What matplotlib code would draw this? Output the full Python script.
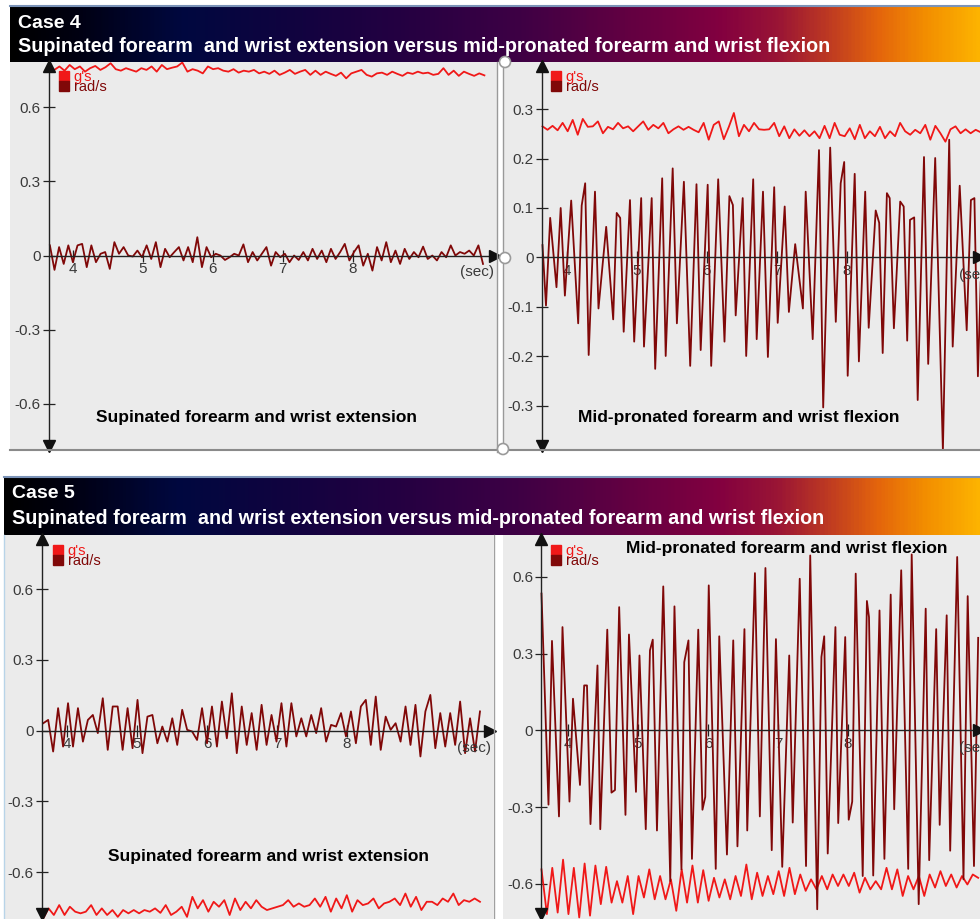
import numpy as np
import matplotlib.pyplot as plt
from matplotlib.colors import LinearSegmentedColormap
from matplotlib.lines import Line2D
from matplotlib.patches import Ellipse

plt.rcParams['font.family'] = ['Liberation Sans', 'DejaVu Sans']

W, H = 980, 919
RED = '#f01818'
DARK = '#800808'
PANEL = '#ebebeb'

# ---- data ----
# Case 4, supinated forearm / wrist extension
tl_rad = [0.041, -0.058, 0.034, -0.034, 0.041, -0.027, 0.041, 0.047, -0.047, 0.041,
          -0.027, 0.007, 0.014, -0.054, 0.054, 0.007, 0.034, 0.0, -0.004, 0.020,
          -0.007, 0.041, -0.014, 0.054, -0.047, 0.027, -0.007, 0.014, 0.034, -0.020,
          0.034, -0.027, 0.074, -0.047, 0.034, -0.007, 0.007, 0.0, -0.018, -0.007,
          0.007, 0.0, 0.045, -0.027, 0.014, -0.020, 0.007, 0.034, -0.041, 0.014,
          -0.007, 0.007, -0.027, 0.0, -0.018, 0.014, -0.020, 0.027, -0.014, 0.020,
          -0.027, 0.027, -0.014, 0.014, 0.047, -0.020, 0.014, 0.041, -0.041, 0.007,
          -0.061, 0.034, -0.020, 0.054, -0.027, 0.020, -0.034, 0.027, -0.014, 0.014,
          -0.007, 0.036, -0.014, 0.0, -0.020, 0.014, -0.007, 0.041, 0.0, 0.014,
          0.007, 0.020, 0.0, 0.041, -0.034]
tl_g = [0.757, 0.750, 0.764, 0.747, 0.770, 0.753, 0.764, 0.743, 0.757, 0.766,
        0.750, 0.761, 0.777, 0.753, 0.747, 0.757, 0.750, 0.743, 0.757, 0.750,
        0.764, 0.743, 0.770, 0.753, 0.759, 0.764, 0.780, 0.743, 0.753, 0.747,
        0.736, 0.764, 0.753, 0.757, 0.747, 0.743, 0.753, 0.739, 0.747, 0.743,
        0.750, 0.736, 0.743, 0.734, 0.747, 0.730, 0.739, 0.750, 0.734, 0.743,
        0.750, 0.730, 0.747, 0.730, 0.743, 0.734, 0.726, 0.739, 0.716, 0.736,
        0.743, 0.750, 0.730, 0.723, 0.736, 0.739, 0.730, 0.743, 0.734, 0.726,
        0.739, 0.734, 0.743, 0.736, 0.739, 0.730, 0.734, 0.757, 0.730, 0.747,
        0.726, 0.743, 0.734, 0.726, 0.736, 0.728]

# Case 4, mid-pronated forearm / wrist flexion
tr_rad_t = [3.65, 3.70, 3.76, 3.85, 3.91, 3.97, 4.06, 4.16, 4.21, 4.26,
            4.31, 4.40, 4.45, 4.56, 4.66, 4.71, 4.76, 4.81, 4.90, 4.96,
            5.06, 5.10, 5.21, 5.26, 5.36, 5.41, 5.51, 5.57, 5.67, 5.76,
            5.85, 5.91, 6.01, 6.06, 6.16, 6.25, 6.32, 6.37, 6.41, 6.51,
            6.56, 6.66, 6.71, 6.80, 6.87, 6.96, 7.01, 7.11, 7.17, 7.26,
            7.37, 7.41, 7.51, 7.60, 7.66, 7.76, 7.84, 7.91, 7.96, 8.01,
            8.11, 8.17, 8.26, 8.31, 8.41, 8.46, 8.51, 8.57, 8.61, 8.67,
            8.76, 8.81, 8.86, 8.90, 8.96, 9.01, 9.10, 9.16, 9.26, 9.37,
            9.46, 9.51, 9.61, 9.71, 9.77, 9.82, 9.87, 9.91]
tr_rad = [0.025, -0.097, 0.080, -0.060, 0.100, -0.077, 0.115, -0.133, 0.105, 0.150,
          -0.197, 0.133, -0.103, 0.062, -0.125, 0.090, 0.080, -0.150, 0.116, -0.170,
          0.120, -0.180, 0.120, -0.225, 0.160, -0.199, 0.180, -0.133, 0.153, -0.219,
          0.148, -0.187, 0.147, -0.219, 0.158, -0.170, 0.124, 0.106, -0.117, 0.120,
          -0.199, 0.158, -0.165, 0.133, -0.201, 0.142, -0.132, 0.103, -0.110, 0.027,
          -0.103, 0.133, -0.165, 0.217, -0.303, 0.222, -0.130, 0.150, 0.193, -0.239,
          0.169, -0.210, 0.133, -0.142, 0.095, 0.070, -0.193, 0.130, 0.120, -0.143,
          0.113, 0.103, -0.168, 0.076, 0.081, -0.288, 0.203, -0.215, 0.201, -0.390,
          0.238, -0.180, 0.145, -0.147, 0.116, 0.120, -0.240, -0.050]
tr_g = [0.265, 0.258, 0.266, 0.257, 0.272, 0.255, 0.278, 0.248, 0.280, 0.264,
        0.265, 0.275, 0.251, 0.264, 0.259, 0.272, 0.261, 0.265, 0.255, 0.265,
        0.275, 0.258, 0.268, 0.261, 0.272, 0.251, 0.259, 0.265, 0.258, 0.264,
        0.258, 0.253, 0.272, 0.238, 0.268, 0.275, 0.239, 0.264, 0.292, 0.245,
        0.268, 0.255, 0.272, 0.259, 0.258, 0.259, 0.272, 0.245, 0.265, 0.241,
        0.259, 0.246, 0.257, 0.245, 0.255, 0.241, 0.266, 0.241, 0.272, 0.248,
        0.245, 0.261, 0.239, 0.268, 0.241, 0.255, 0.245, 0.264, 0.241, 0.255,
        0.245, 0.272, 0.255, 0.248, 0.258, 0.251, 0.268, 0.238, 0.266, 0.251,
        0.234, 0.259, 0.265, 0.251, 0.259, 0.251, 0.258, 0.253]

# Case 5, supinated forearm / wrist extension
bl_rad = [0.031, 0.045, -0.089, 0.095, -0.068, 0.116, -0.068, 0.095, -0.047, 0.045,
          0.066, -0.011, 0.137, -0.082, 0.102, 0.102, -0.082, 0.095, -0.075, 0.130,
          -0.096, 0.059, 0.066, -0.054, 0.017, -0.047, 0.052, -0.061, 0.088, 0.003,
          -0.004, -0.040, 0.095, -0.054, 0.102, -0.068, 0.123, -0.033, 0.158, -0.096,
          0.102, -0.061, 0.074, -0.082, 0.109, -0.061, 0.066, -0.047, 0.116, -0.068,
          0.116, -0.025, 0.052, -0.025, 0.066, -0.011, 0.095, -0.047, 0.024, 0.017,
          0.074, -0.025, 0.081, -0.054, 0.102, 0.130, -0.061, 0.144, -0.082, 0.059,
          0.003, 0.031, -0.047, 0.102, -0.061, 0.109, -0.110, 0.081, 0.151, -0.075,
          0.074, -0.068, 0.074, -0.061, 0.123, -0.096, 0.052, -0.089, 0.081]
bl_g = [-0.797, -0.754, -0.782, -0.740, -0.782, -0.747, -0.768, -0.775, -0.768, -0.740,
        -0.782, -0.754, -0.782, -0.761, -0.790, -0.761, -0.775, -0.761, -0.775, -0.761,
        -0.768, -0.754, -0.773, -0.740, -0.782, -0.768, -0.747, -0.790, -0.705, -0.754,
        -0.719, -0.768, -0.726, -0.747, -0.719, -0.782, -0.712, -0.761, -0.726, -0.754,
        -0.719, -0.747, -0.761, -0.754, -0.747, -0.740, -0.719, -0.747, -0.733, -0.747,
        -0.740, -0.712, -0.747, -0.705, -0.768, -0.712, -0.754, -0.698, -0.768, -0.719,
        -0.740, -0.733, -0.712, -0.754, -0.733, -0.726, -0.712, -0.740, -0.691, -0.747,
        -0.705, -0.761, -0.726, -0.726, -0.740, -0.712, -0.726, -0.691, -0.740, -0.719,
        -0.726, -0.712, -0.726]

# Case 5, mid-pronated forearm / wrist flexion
br_rad_t = [3.62, 3.72, 3.77, 3.87, 3.92, 4.02, 4.07, 4.17, 4.23, 4.27,
            4.32, 4.42, 4.46, 4.56, 4.62, 4.67, 4.73, 4.82, 4.87, 4.97,
            5.02, 5.11, 5.17, 5.21, 5.27, 5.36, 5.46, 5.52, 5.62, 5.66,
            5.72, 5.77, 5.86, 5.92, 5.96, 6.01, 6.11, 6.16, 6.27, 6.36,
            6.42, 6.52, 6.56, 6.67, 6.74, 6.82, 6.91, 6.97, 7.06, 7.16,
            7.21, 7.31, 7.40, 7.46, 7.56, 7.62, 7.66, 7.71, 7.82, 7.86,
            7.96, 8.01, 8.06, 8.11, 8.21, 8.27, 8.30, 8.36, 8.45, 8.52,
            8.61, 8.66, 8.76, 8.86, 8.91, 9.01, 9.11, 9.16, 9.26, 9.31,
            9.41, 9.46, 9.56, 9.65, 9.71, 9.80, 9.86]
br_rad = [0.535, -0.290, 0.350, -0.336, 0.404, -0.278, 0.124, -0.213, 0.176, 0.176,
          -0.366, 0.254, -0.386, 0.394, -0.243, -0.233, 0.482, -0.330, 0.375, -0.240,
          0.293, -0.386, 0.313, 0.355, -0.391, 0.563, -0.589, 0.485, -0.543, 0.267,
          0.352, -0.502, 0.394, -0.310, -0.260, 0.567, -0.541, 0.368, -0.485, 0.352,
          -0.453, 0.396, -0.391, 0.615, -0.336, 0.635, -0.468, 0.357, -0.533, 0.293,
          -0.360, 0.593, -0.530, 0.684, -0.699, 0.287, 0.368, -0.481, 0.404, -0.362,
          0.365, -0.349, -0.278, 0.613, -0.569, 0.506, 0.443, -0.567, 0.469, -0.502,
          0.531, -0.308, 0.626, -0.541, 0.688, -0.679, 0.476, -0.507, 0.396, -0.369,
          0.450, -0.470, 0.678, -0.582, 0.525, -0.530, 0.362]
br_g = [-0.543, -0.718, -0.537, -0.712, -0.505, -0.718, -0.537, -0.731, -0.520, -0.724,
        -0.528, -0.679, -0.533, -0.673, -0.589, -0.673, -0.569, -0.718, -0.569, -0.653,
        -0.543, -0.660, -0.569, -0.660, -0.582, -0.705, -0.543, -0.673, -0.528, -0.673,
        -0.546, -0.666, -0.576, -0.653, -0.582, -0.660, -0.569, -0.647, -0.524, -0.660,
        -0.556, -0.647, -0.569, -0.640, -0.550, -0.647, -0.537, -0.640, -0.563, -0.627,
        -0.582, -0.621, -0.569, -0.621, -0.563, -0.608, -0.563, -0.608, -0.556, -0.634,
        -0.576, -0.621, -0.589, -0.621, -0.537, -0.621, -0.543, -0.647, -0.569, -0.621,
        -0.569, -0.647, -0.563, -0.614, -0.550, -0.608, -0.563, -0.614, -0.569, -0.602,
        -0.563, -0.576]

x_ticks = [4, 5, 6, 7, 8]
left_yticks = [0.6, 0.3, 0, -0.3, -0.6]
left_ylabels = ['0.6', '0.3', '0', '-0.3', '-0.6']
tr_yticks = [0.3, 0.2, 0.1, 0, -0.1, -0.2, -0.3]
tr_ylabels = ['0.3', '0.2', '0.1', '0', '-0.1', '-0.2', '-0.3']
case_titles = ['Case 4', 'Case 5']
subtitle = 'Supinated forearm  and wrist extension versus mid-pronated forearm and wrist flexion'
sup_caption = 'Supinated forearm and wrist extension'
mid_caption = 'Mid-pronated forearm and wrist flexion'
legend_labels = ["g's", 'rad/s']


def rect(x0, y0, x1, y1):
    return [x0 / W, 1 - y1 / H, (x1 - x0) / W, (y1 - y0) / H]


fig = plt.figure(figsize=(W / 100, H / 100), dpi=100)

# banners with the black -> navy -> purple -> crimson -> orange gradient
stops = [(10, '#000000'), (70, '#000010'), (180, '#00083f'), (300, '#120340'),
         (420, '#280042'), (520, '#3e0045'), (620, '#600042'), (720, '#820040'),
         (780, '#9a1535'), (830, '#be3a22'), (880, '#e4650c'), (930, '#f39000'),
         (980, '#fdb300')]


def banner(x0, y0, y1, case):
    cmap = LinearSegmentedColormap.from_list(
        'band', [((x - 10) / 970, c) for x, c in stops])
    ax = fig.add_axes(rect(x0, y0, 980, y1))
    ax.imshow(np.linspace(0, 1, 600).reshape(1, -1), cmap=cmap, aspect='auto',
              extent=(0, 1, 0, 1))
    ax.axis('off')
    fig.add_artist(Line2D([x0 / W, 1], [1 - y0 / H] * 2, color='#7b93b8', lw=1.5))
    fig.text((x0 + 8) / W, 1 - (y0 + 17) / H, case, color='white', fontsize=14,
             fontweight='bold', va='center')
    fig.text((x0 + 8) / W, 1 - (y0 + 41) / H, subtitle, color='white', fontsize=14.2,
             fontweight='bold', va='center')


banner(10, 6, 62, case_titles[0])
banner(4, 477, 535, case_titles[1])


def panel(box, xlim, ylim, yax, yticks, ylabels, xend, sec_x, sec_y, leg_xy):
    ax = fig.add_axes(rect(*box))
    ax.set_facecolor(PANEL)
    ax.set_xlim(xlim)
    ax.set_ylim(ylim)
    ax.spines['top'].set_visible(False)
    ax.spines['right'].set_visible(False)
    ax.spines['left'].set_position(('data', yax))
    ax.spines['bottom'].set_position(('data', 0))
    ax.spines['bottom'].set_bounds(yax, xend)
    for s in ['left', 'bottom']:
        ax.spines[s].set_color('#222222')
        ax.spines[s].set_linewidth(1.0)
    ax.set_xticks(x_ticks)
    ax.set_xticklabels([str(t) for t in x_ticks])
    ax.set_yticks(yticks)
    ax.set_yticklabels(ylabels)
    ax.tick_params(direction='inout', length=8, width=0.9, color='#222222',
                   labelcolor='#3a3a3a', labelsize=11, pad=1)
    ax.tick_params(axis='y', pad=2)
    ax.plot([yax], [0.99], marker='^', ms=9, color='#111111',
            transform=ax.get_xaxis_transform(), clip_on=False, zorder=5)
    ax.plot([yax], [0.012], marker='v', ms=9, color='#111111',
            transform=ax.get_xaxis_transform(), clip_on=False, zorder=5)
    ax.plot([xend], [0], marker='>', ms=9, color='#111111', clip_on=False, zorder=5)
    fig.text(sec_x / W, 1 - sec_y / H, '(sec)', color='#3a3a3a', fontsize=11,
             ha='center', va='center')
    handles = [Line2D([], [], ls='none', marker='s', ms=6.5, color=RED),
               Line2D([], [], ls='none', marker='s', ms=6.5, color=DARK)]
    ax.legend(handles, legend_labels, loc='upper left', frameon=False, fontsize=10.5,
              labelcolor=[RED, DARK], handlelength=0.7, handletextpad=0.3,
              labelspacing=-0.25, borderpad=0, borderaxespad=0,
              bbox_to_anchor=(leg_xy[0] / W, 1 - leg_xy[1] / H),
              bbox_transform=fig.transFigure)
    return ax


ax_tl = panel((10, 62, 497, 451), (3.10, 10.06), (-0.79, 0.782), 3.66,
              left_yticks, left_ylabels, 10.03, 477, 272, (59, 70))
ax_tl.plot(np.linspace(3.66, 9.88, len(tl_g)), tl_g, color=RED, lw=1.3)
ax_tl.plot(np.linspace(3.67, 9.86, len(tl_rad)), tl_rad, color=DARK, lw=1.3)

ax_tr = panel((503, 62, 980, 451), (3.086, 9.90), (-0.391, 0.395), 3.64,
              tr_yticks, tr_ylabels, 9.88, 976, 275, (551, 70))
ax_tr.plot(np.linspace(3.65, 9.91, len(tr_g)), tr_g, color=RED, lw=1.3)
ax_tr.plot(tr_rad_t, tr_rad, color=DARK, lw=1.3)

ax_bl = panel((5, 535, 493, 919), (3.114, 10.086), (-0.799, 0.829), 3.64,
              left_yticks, left_ylabels, 10.05, 474, 748, (53, 544))
ax_bl.plot(np.linspace(3.66, 9.90, len(bl_g)), bl_g, color=RED, lw=1.3)
ax_bl.plot(np.linspace(3.66, 9.90, len(bl_rad)), bl_rad, color=DARK, lw=1.3)

ax_br = panel((503, 535, 980, 919), (3.07, 9.886), (-0.737, 0.764), 3.62,
              left_yticks, left_ylabels, 9.87, 976, 748, (551, 544))
ax_br.plot(np.linspace(3.62, 9.86, len(br_g)), br_g, color=RED, lw=1.3)
ax_br.plot(br_rad_t, br_rad, color=DARK, lw=1.3)

# captions inside the panels
cap = dict(fontsize=12.5, fontweight='bold', ha='center', va='center')
fig.text(256 / W, 1 - 418 / H, sup_caption, **cap)
fig.text(739 / W, 1 - 418 / H, mid_caption, **cap)
fig.text(268 / W, 1 - 856 / H, sup_caption, **cap)
fig.text(787 / W, 1 - 548 / H, mid_caption, **cap)

# panel frames and the small slider handles between the top panels
fig.add_artist(Line2D([10 / W, 497 / W], [1 - 450 / H] * 2, color='#8a8a8a', lw=1.5))
fig.add_artist(Line2D([503 / W, 1], [1 - 450 / H] * 2, color='#8a8a8a', lw=1.5))
fig.add_artist(Line2D([497 / W] * 2, [1 - 62 / H, 1 - 452 / H], color='#9a9a9a', lw=1))
fig.add_artist(Line2D([503 / W] * 2, [1 - 62 / H, 1 - 452 / H], color='#9a9a9a', lw=1))
fig.add_artist(Line2D([4 / W] * 2, [1 - 535 / H, 0], color='#b8d4e8', lw=1))
fig.add_artist(Line2D([494 / W] * 2, [1 - 535 / H, 0], color='#a0a0a0', lw=1))
for cx, cy in [(505, 62), (505, 258), (503, 449)]:
    fig.add_artist(Ellipse((cx / W, 1 - cy / H), 11 / W, 11 / H, facecolor='white',
                           edgecolor='#9a9a9a', lw=1.2, zorder=10))

fig.savefig('out.png', dpi=100)
